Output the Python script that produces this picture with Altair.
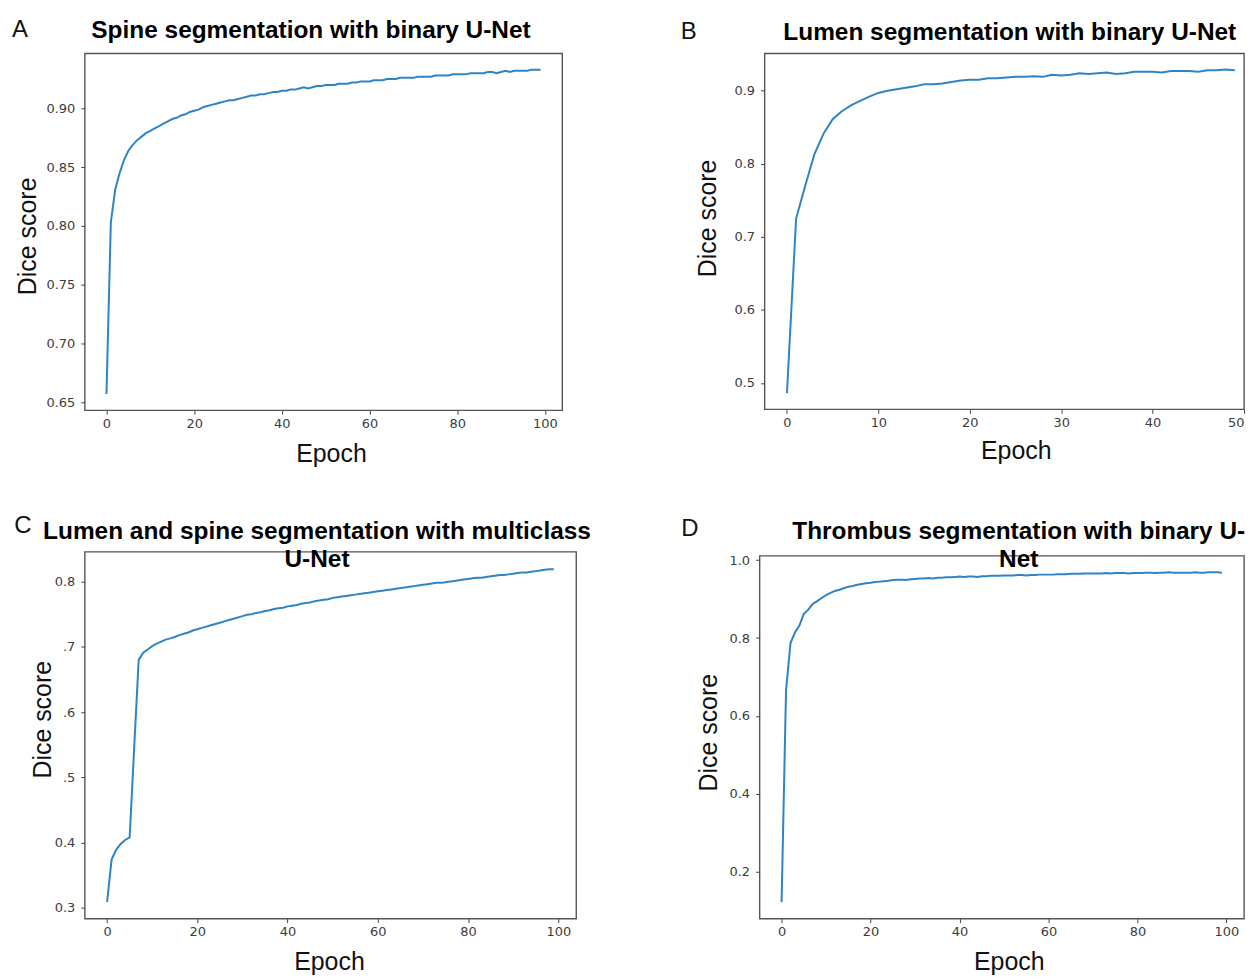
import altair as alt
import pandas as pd

# ---------------- data ----------------
epochs_100 = list(range(100))
epochs_50 = list(range(50))

spine_dice = [
    0.657, 0.803, 0.831, 0.845, 0.856, 0.864, 0.869, 0.873, 0.876, 0.879,
    0.881, 0.883, 0.885, 0.887, 0.889, 0.891, 0.892, 0.894, 0.895, 0.897,
    0.898, 0.899, 0.901, 0.902, 0.903, 0.904, 0.905, 0.906, 0.907, 0.907,
    0.908, 0.909, 0.910, 0.911, 0.911, 0.912, 0.912, 0.913, 0.914, 0.914,
    0.915, 0.915, 0.916, 0.916, 0.917, 0.918, 0.917, 0.918, 0.919, 0.919,
    0.920, 0.920, 0.920, 0.921, 0.921, 0.921, 0.922, 0.922, 0.923, 0.923,
    0.923, 0.924, 0.924, 0.924, 0.925, 0.925, 0.925, 0.926, 0.926, 0.926,
    0.926, 0.927, 0.927, 0.927, 0.927, 0.928, 0.928, 0.928, 0.928, 0.929,
    0.929, 0.929, 0.929, 0.930, 0.930, 0.930, 0.930, 0.931, 0.931, 0.930,
    0.931, 0.932, 0.931, 0.932, 0.932, 0.932, 0.932, 0.933, 0.933, 0.933,
]

lumen_dice = [
    0.486, 0.725, 0.770, 0.813, 0.841, 0.861, 0.872, 0.880, 0.886, 0.892,
    0.897, 0.900, 0.902, 0.904, 0.906, 0.909, 0.909, 0.910, 0.912, 0.914,
    0.915, 0.915, 0.917, 0.917, 0.918, 0.919, 0.919, 0.920, 0.919, 0.922,
    0.921, 0.922, 0.924, 0.923, 0.924, 0.925, 0.923, 0.924, 0.926, 0.926,
    0.926, 0.925, 0.927, 0.927, 0.927, 0.926, 0.928, 0.928, 0.929, 0.928,
]

multiclass_dice = [
    0.309, 0.374, 0.389, 0.398, 0.404, 0.408, 0.545, 0.680, 0.691, 0.696,
    0.701, 0.705, 0.708, 0.711, 0.713, 0.715, 0.718, 0.720, 0.722, 0.725,
    0.727, 0.729, 0.731, 0.733, 0.735, 0.737, 0.739, 0.741, 0.743, 0.745,
    0.747, 0.749, 0.750, 0.752, 0.753, 0.755, 0.756, 0.758, 0.759, 0.760,
    0.762, 0.763, 0.764, 0.766, 0.767, 0.768, 0.770, 0.771, 0.772, 0.773,
    0.775, 0.776, 0.777, 0.778, 0.779, 0.780, 0.781, 0.782, 0.783, 0.784,
    0.785, 0.786, 0.787, 0.788, 0.789, 0.790, 0.791, 0.792, 0.793, 0.794,
    0.795, 0.796, 0.797, 0.798, 0.798, 0.799, 0.800, 0.801, 0.802, 0.803,
    0.804, 0.805, 0.806, 0.806, 0.807, 0.808, 0.809, 0.810, 0.810, 0.811,
    0.812, 0.813, 0.814, 0.814, 0.815, 0.816, 0.817, 0.818, 0.819, 0.819,
]

thrombus_dice = [
    0.121, 0.666, 0.787, 0.814, 0.832, 0.862, 0.873, 0.888, 0.895, 0.903,
    0.910, 0.916, 0.921, 0.924, 0.928, 0.932, 0.934, 0.937, 0.939, 0.941,
    0.942, 0.944, 0.945, 0.946, 0.947, 0.949, 0.950, 0.950, 0.949, 0.951,
    0.952, 0.953, 0.953, 0.954, 0.953, 0.955, 0.955, 0.956, 0.956, 0.957,
    0.958, 0.957, 0.958, 0.958, 0.957, 0.959, 0.959, 0.960, 0.960, 0.960,
    0.961, 0.961, 0.961, 0.962, 0.962, 0.961, 0.962, 0.962, 0.963, 0.963,
    0.963, 0.963, 0.964, 0.964, 0.964, 0.965, 0.965, 0.965, 0.966, 0.966,
    0.966, 0.966, 0.966, 0.967, 0.966, 0.967, 0.967, 0.967, 0.966, 0.967,
    0.967, 0.967, 0.968, 0.968, 0.967, 0.968, 0.968, 0.969, 0.968, 0.968,
    0.968, 0.968, 0.968, 0.969, 0.968, 0.968, 0.969, 0.969, 0.969, 0.968,
]

x_ticks_100 = [0, 20, 40, 60, 80, 100]
x_ticks_50 = [0, 10, 20, 30, 40, 50]
y_ticks_a = [0.65, 0.70, 0.75, 0.80, 0.85, 0.90]
y_ticks_b = [0.5, 0.6, 0.7, 0.8, 0.9]
y_ticks_c = [0.3, 0.4, 0.5, 0.6, 0.7, 0.8]
y_ticks_d = [0.2, 0.4, 0.6, 0.8, 1.0]

title_a = ["Spine segmentation with binary U-Net"]
title_b = ["Lumen segmentation with binary U-Net"]
title_c = ["Lumen and spine segmentation with multiclass", "U-Net"]
title_d = ["Thrombus segmentation with binary U-", "Net"]

LINE_COLOR = "#2f84c6"
FONT = "Liberation Sans"

one_row = pd.DataFrame({"k": [0]})


def panel(epochs, dice, width, height, xdom, ydom, xvals, yvals, yfmt,
          ylabel_expr, title_lines, title_xy, letter, letter_xy,
          ytitle_xy, xtitle_xy, cell, flush=False):
    df = pd.DataFrame({"Epoch": epochs, "Dice": dice})
    yaxis_kw = dict(
        values=yvals, format=yfmt, title="Dice score",
        titleX=ytitle_xy[0], titleY=ytitle_xy[1],
        titleAlign="center", titleBaseline="middle", titleAngle=270,
        labelPadding=6,
    )
    if ylabel_expr:
        yaxis_kw["labelExpr"] = ylabel_expr
    xaxis_kw = dict(values=xvals, format="d", title="Epoch",
                    titleX=xtitle_xy[0], titleY=xtitle_xy[1],
                    titleAlign="center", titleBaseline="middle",
                    labelPadding=3, labelAngle=0)
    if flush:
        xaxis_kw["labelFlush"] = True
    line = alt.Chart(df).mark_line(color=LINE_COLOR, strokeWidth=2).encode(
        x=alt.X("Epoch:Q",
                scale=alt.Scale(domain=xdom, nice=False, zero=False),
                axis=alt.Axis(**xaxis_kw)),
        y=alt.Y("Dice:Q",
                scale=alt.Scale(domain=ydom, nice=False, zero=False),
                axis=alt.Axis(**yaxis_kw)),
    )
    anchor = alt.Chart(one_row).mark_rule(opacity=0, strokeWidth=0).encode(
        x=alt.value(cell[0]), y=alt.value(cell[1]),
        x2=alt.value(cell[2]), y2=alt.value(cell[3]),
    )
    layers = [line, anchor]
    layers.append(
        alt.Chart(one_row).mark_text(
            text=letter, font=FONT, fontSize=24, fontWeight="normal",
            color="#111", align="center", baseline="alphabetic",
        ).encode(x=alt.value(letter_xy[0]), y=alt.value(letter_xy[1]))
    )
    for i, t in enumerate(title_lines):
        layers.append(
            alt.Chart(one_row).mark_text(
                text=t, font=FONT, fontSize=24.5, fontWeight="bold",
                color="#000", align="center", baseline="alphabetic",
            ).encode(x=alt.value(title_xy[0]),
                     y=alt.value(title_xy[1] + 28 * i))
        )
    return alt.layer(*layers).properties(width=width, height=height)


A = panel(epochs_100, spine_dice, 479, 358, [-4.95, 103.95], [0.6432, 0.9468],
          x_ticks_100, y_ticks_a, ".2f", None, title_a, (227, -15), "A",
          (-65, -16), (-57, 183), (247, 43), (-76, -43, 512, 424))

B = panel(epochs_50, lumen_dice, 481, 357, [-2.45, 50.0], [0.4639, 0.9511],
          x_ticks_50, y_ticks_b, ".1f", None, title_b, (246, -13), "B",
          (-76, -14), (-57, 165), (252, 41), (-168, -43, 481, 424),
          flush=True)

C = panel(epochs_100, multiclass_dice, 493, 368, [-4.95, 103.95],
          [0.2835, 0.8456], x_ticks_100, y_ticks_c, ".1f",
          "datum.value > 0.45 && datum.value < 0.75 ? '.' + format(datum.value * 10, '.0f') : format(datum.value, '.1f')",
          title_c, (233, -13), "C", (-62, -19), (-42, 168), (245, 43),
          (-76, -74, 512, 423))

D = panel(epochs_100, thrombus_dice, 486, 364, [-4.95, 103.95],
          [0.0786, 1.0114], x_ticks_100, y_ticks_d, ".1f", None, title_d,
          (260, -17), "D", (-70, -20), (-51, 177), (250, 43),
          (-163, -78, 486, 419))

chart = alt.concat(
    A, B, C, D, columns=2, spacing=0, align="none", bounds="full"
).properties(
    padding=0, background="white"
).configure_view(
    stroke="#555", strokeWidth=1.4
).configure_axis(
    domain=False, grid=False, tickColor="#444", tickSize=4, tickWidth=1,
    labelFont="DejaVu Sans", labelFontSize=13, labelColor="#3c3c3c",
    titleFont=FONT, titleFontSize=25, titleFontWeight="normal",
    titleColor="#111",
)

chart.save("out.html", embed_options={"renderer": "svg", "actions": False})
